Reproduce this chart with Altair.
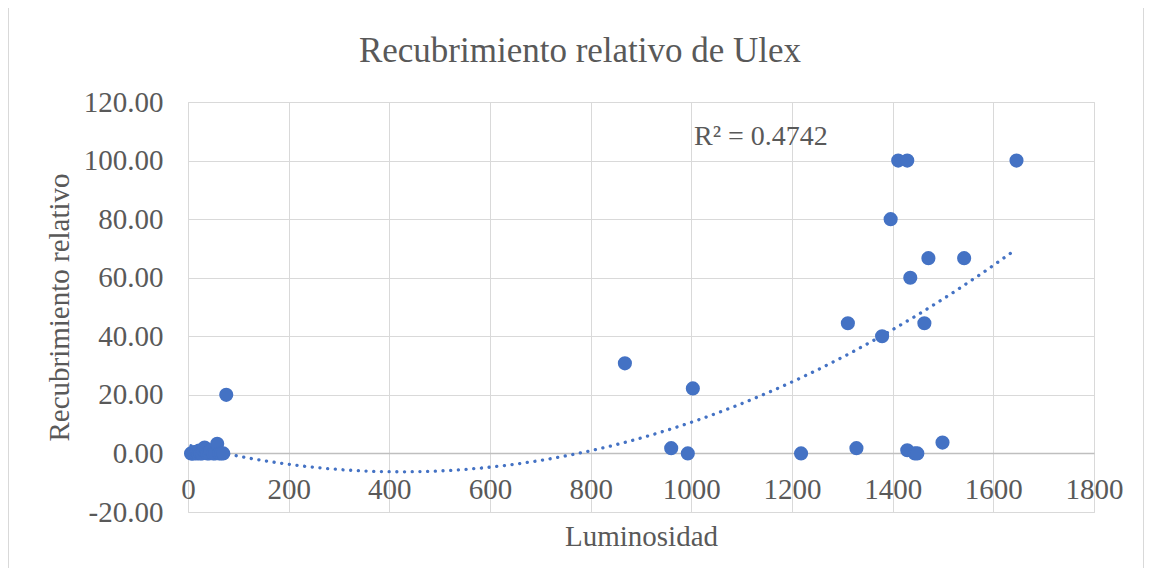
import altair as alt
import pandas as pd

# ---- data ----
luminosidad = [6, 8, 10, 12, 15, 18, 20, 22, 25, 28, 31, 33, 36, 38, 42, 45, 50, 54, 58, 62, 66, 70, 76,
               868, 960, 993, 1003, 1218, 1311, 1328, 1379, 1396,
               1411, 1429, 1429, 1435, 1444, 1449, 1463, 1471, 1499, 1542, 1646]
recubrimiento = [0, 0, 0, 0.5, 0, 0.5, 0, 1, 0, 0, 1, 2, 1.5, 0, 0, 1, 0, 0, 3.3, 0, 0, 0, 20,
                 30.77, 1.8, 0, 22.2, 0, 44.44, 1.8, 40, 80,
                 100, 100, 1.1, 60, 0, 0, 44.44, 66.67, 3.7, 66.67, 100]
x_ticks = [0, 200, 400, 600, 800, 1000, 1200, 1400, 1600, 1800]
y_ticks = [-20, 0, 20, 40, 60, 80, 100, 120]
title_text = "Recubrimiento relativo de Ulex"
x_title = "Luminosidad"
y_title = "Recubrimiento relativo"
r2_text = "R² = 0.4742"

df = pd.DataFrame({"lum": luminosidad, "rec": recubrimiento})

W, H = 906, 410
FONT = "Liberation Serif"
GRAY = "#595959"
BLUE = "#4472C4"
GRID = "#d9d9d9"
FS = 29

x_axis = alt.Axis(values=x_ticks, format="d", title=x_title, grid=True, gridColor=GRID,
                  gridWidth=1, ticks=False, domain=True, domainColor="#bfbfbf", domainWidth=1.5,
                  offset=-round(H * 20 / 140), labelPadding=22, labelFontSize=FS, labelFont=FONT,
                  labelColor=GRAY, labelFlush=False, labelOverlap=False,
                  titleFont=FONT, titleFontSize=FS, titleFontWeight="normal", titleColor=GRAY,
                  titleY=92, titleBaseline="alphabetic")
y_axis = alt.Axis(values=y_ticks, title=y_title, grid=True, gridColor=GRID,
                  labelExpr="(datum.value < 0 ? '-' : '') + format(abs(datum.value), '.2f')",
                  gridWidth=1, ticks=False, domain=False, labelPadding=25, labelFontSize=FS,
                  labelFont=FONT, labelColor=GRAY, labelOverlap=False, labelFlush=False,
                  titleFont=FONT, titleFontSize=FS, titleFontWeight="normal", titleColor=GRAY,
                  titleX=-129, titleY=H / 2, titleAngle=-90, titleBaseline="middle")

xs = alt.Scale(domain=[0, 1800], nice=False, zero=False)
ys = alt.Scale(domain=[-20, 120], nice=False, zero=False)

base = alt.Chart(df)

points = base.mark_point(filled=True, size=200, color=BLUE, opacity=1).encode(
    x=alt.X("lum:Q", scale=xs, axis=x_axis),
    y=alt.Y("rec:Q", scale=ys, axis=y_axis),
)

trend = base.transform_regression("lum", "rec", method="poly", order=2).mark_line(
    color=BLUE, strokeDash=[0.1, 7.6], strokeCap="round", strokeWidth=3.3
).encode(x=alt.X("lum:Q", scale=xs), y=alt.Y("rec:Q", scale=ys))

r2 = alt.Chart(pd.DataFrame({"t": [r2_text]})).mark_text(
    font=FONT, fontSize=28, color=GRAY, align="left", baseline="middle"
).encode(text="t:N", x=alt.value(506), y=alt.value(35))

title = alt.Chart(pd.DataFrame({"t": [title_text]})).mark_text(
    font=FONT, fontSize=35, color=GRAY, align="center", baseline="alphabetic"
).encode(text="t:N", x=alt.value(392), y=alt.value(-40))

border = alt.Chart(pd.DataFrame({"a": [0]})).mark_rect(
    fillOpacity=0, stroke=GRID, strokeWidth=1
).encode(x=alt.value(-179.5), x2=alt.value(955.5), y=alt.value(-94.5), y2=alt.value(480))

chart = alt.layer(border, trend, points, r2, title).properties(
    width=W, height=H,
    autosize=alt.AutoSizeParams(type="none"),
    padding={"left": 180, "top": 94, "right": 50, "bottom": 56},
).configure_view(stroke=None).configure(background="white")

chart.save("out.html", embed_options={"renderer": "svg", "actions": False})
